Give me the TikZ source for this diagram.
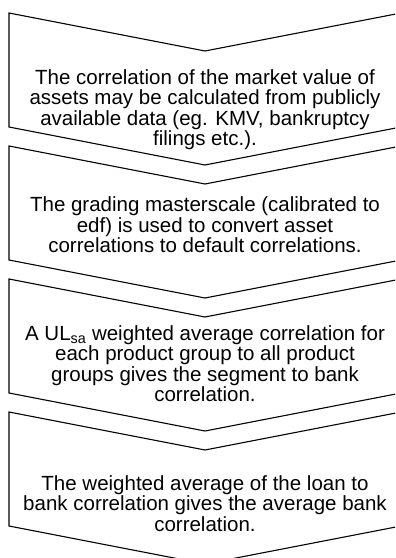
\documentclass[tikz,border=0pt]{standalone}
\usepackage{fontspec}
\setmainfont{Liberation Sans}
\newcommand\sst{\rule[-5bp]{0pt}{20bp}}
\tikzset{
  chev/.style={draw=black, line width=1.1bp, line join=miter, fill=white},
  txt/.style={anchor=north, inner sep=0pt, align=center, text=black,
    font=\fontsize{20.5bp}{20.3bp}\selectfont}
}
\begin{document}
\begin{tikzpicture}[x=1bp,y=-1bp]
\clip (0,0) rectangle (395,558);
\fill[white] (0,0) rectangle (395,558);
% chevrons: top-left y = T, notch depth 38, body height 114
\foreach \T/\n in {13/c1,146/c2,279/c3,412/c4}{
  \draw[chev] (9,\T) coordinate (\n tl) -- (205,\T+38) coordinate (\n tn)
    -- (401,\T) -- (401,\T+114) -- (205,\T+152) coordinate (\n bp)
    -- (9,\T+114) -- cycle;
}
\node[txt] (t1) at (205,84.3-15) {\sst The correlation of the market value of\\
  \sst assets may be calculated from publicly\\
  \sst available data (eg. KMV, bankruptcy\\
  \sst filings etc.).};
\node[txt] (t2) at (205,211.7-15) {\sst The grading masterscale (calibrated to\\
  \sst edf) is used to convert asset\\
  \sst correlations to default correlations.};
\node[txt] (t3) at (205,340.3-15) {\sst A UL\textsubscript{sa} weighted average correlation for\\
  \sst each product group to all product\\
  \sst groups gives the segment to bank\\
  \sst correlation.};
\node[txt] (t4) at (205,490.3-15) {\sst The weighted average of the loan to\\
  \sst bank correlation gives the average bank\\
  \sst correlation.};
\end{tikzpicture}
\end{document}
